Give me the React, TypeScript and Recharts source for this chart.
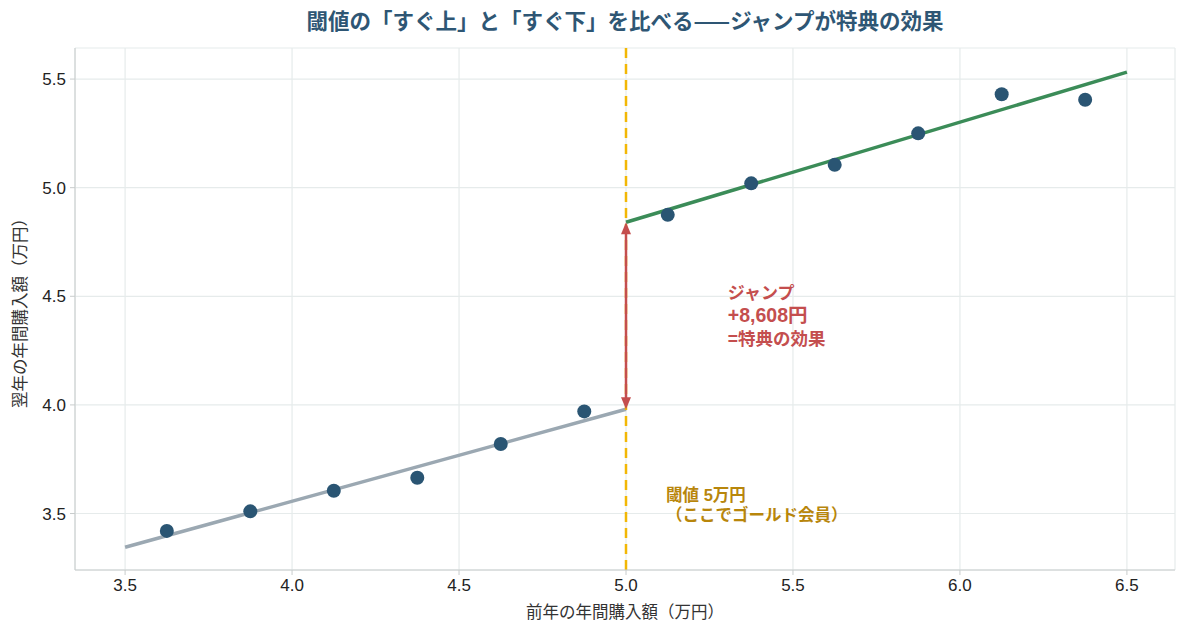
import {
  ComposedChart, Line, Scatter, XAxis, YAxis, CartesianGrid, ReferenceLine, ReferenceDot,
} from 'recharts';

// 前年購入額（万円）のビン中心と、翌年購入額の平均
const binX = [3.625, 3.875, 4.125, 4.375, 4.625, 4.875, 5.125, 5.375, 5.625, 5.875, 6.125, 6.375];
const binY = [3.42, 3.51, 3.605, 3.665, 3.82, 3.97, 4.875, 5.02, 5.105, 5.25, 5.43, 5.405];

// 左右それぞれの回帰直線の端点
const lowFitX = [3.5, 5.0];
const lowFitY = [3.345, 3.98];
const highFitX = [5.0, 6.5];
const highFitY = [4.841, 5.532];

const xTicks = [3.5, 4.0, 4.5, 5.0, 5.5, 6.0, 6.5];
const yTicks = [3.5, 4.0, 4.5, 5.0, 5.5];

const threshold = 5.0;
const jumpLines = ['ジャンプ', '+8,608円', '=特典の効果'];
const thresholdLines = ['閾値 5万円', '（ここでゴールド会員）'];

const font = '"Noto Sans CJK JP", "Noto Sans", sans-serif';
const latinFirst = '"Liberation Sans", "Noto Sans CJK JP", sans-serif';
const navy = '#2a5573';
const grey = '#9ba8b2';
const green = '#3b8c58';
const gold = '#f2b705';
const goldText = '#b8860b';
const red = '#c44e4e';

const points = binX.map((x, i) => ({ x, y: binY[i] }));
const lowFit = lowFitX.map((x, i) => ({ x, y: lowFitY[i] }));
const highFit = highFitX.map((x, i) => ({ x, y: highFitY[i] }));

function XTick({ x, y, payload }: any) {
  return (
    <text x={x} y={y + 14} textAnchor="middle" fontSize={17} fill="#222" fontFamily={latinFirst}>
      {payload.value.toFixed(1)}
    </text>
  );
}

function YTick({ x, y, payload }: any) {
  return (
    <text x={x - 2} y={y + 6} textAnchor="end" fontSize={17} fill="#222" fontFamily={latinFirst}>
      {payload.value.toFixed(1)}
    </text>
  );
}

function JumpArrow(props: any) {
  const { x1, y1, x2, y2 } = props;
  const top = Math.min(y1, y2);
  const bot = Math.max(y1, y2);
  return (
    <g>
      <line x1={x1} y1={top + 6} x2={x2} y2={bot - 6} stroke={red} strokeWidth={2.5} />
      <path d={`M${x1 - 5},${top + 12} L${x1},${top} L${x1 + 5},${top + 12} Z`} fill={red} />
      <path d={`M${x1 - 5},${bot - 12} L${x1},${bot} L${x1 + 5},${bot - 12} Z`} fill={red} />
    </g>
  );
}

function TextBlock({ cx, cy, lines, color, sizes, gap }: any) {
  return (
    <text x={cx} y={cy} fill={color} fontWeight={700} fontFamily={latinFirst}>
      {lines.map((l: string, i: number) => (
        <tspan key={i} x={cx} dy={i === 0 ? 0 : gap} fontSize={sizes[i]}>{l}</tspan>
      ))}
    </text>
  );
}

export default function App() {
  return (
    <div style={{ width: 1188, height: 636, background: '#fff', position: 'relative', fontFamily: font }}>
      <style>{'body{margin:0}'}</style>
      <div style={{ position: 'absolute', left: 75, width: 1100, top: 4, textAlign: 'center', fontSize: 21.5, fontWeight: 700, color: '#2e5674' }}>
        閾値の「すぐ上」と「すぐ下」を比べる——ジャンプが特典の効果
      </div>
      <ComposedChart width={1188} height={636} margin={{ top: 48, right: 13, bottom: 0, left: 20 }}>
        <CartesianGrid stroke="#e6ebeb" strokeWidth={1.2} />
        <XAxis
          type="number" dataKey="x" domain={[3.35, 6.644]} ticks={xTicks} allowDataOverflow
          height={66} tick={<XTick />} tickSize={5}
          stroke="#c8cccc" tickLine={{ stroke: '#c8cccc' }}
          label={{ value: '前年の年間購入額（万円）', position: 'insideBottom', offset: 18, fontSize: 16.5, fill: '#333', fontFamily: font }}
        />
        <YAxis
          type="number" dataKey="y" domain={[3.24, 5.643]} ticks={yTicks} allowDataOverflow
          width={55} tick={<YTick />} tickSize={5}
          stroke="#c8cccc" tickLine={{ stroke: '#c8cccc' }}
          label={{ value: '翌年の年間購入額（万円）', angle: -90, position: 'insideLeft', offset: 0, style: { textAnchor: 'middle' }, fontSize: 16.5, fill: '#333', fontFamily: font }}
        />
        <Line data={lowFit} dataKey="y" stroke={grey} strokeWidth={3.5} dot={false} activeDot={false} isAnimationActive={false} />
        <Line data={highFit} dataKey="y" stroke={green} strokeWidth={3.5} dot={false} activeDot={false} isAnimationActive={false} />
        <ReferenceLine x={threshold} stroke={gold} strokeWidth={2.5} strokeDasharray="10 6" />
        <ReferenceLine
          segment={[{ x: threshold, y: lowFitY[1] }, { x: threshold, y: highFitY[0] }]}
          shape={JumpArrow}
        />
        <Scatter data={points} dataKey="y" fill={navy} isAnimationActive={false}
          shape={(p: any) => <circle cx={p.cx} cy={p.cy} r={7} fill={navy} />} />
        <ReferenceDot x={5.305} y={4.5} r={0} shape={(p: any) => (
          <TextBlock cx={p.cx} cy={p.cy + 3} lines={jumpLines} color={red} sizes={[17, 19.5, 17.5]} gap={23} />
        )} />
        <ReferenceDot x={5.12} y={3.57} r={0} shape={(p: any) => (
          <TextBlock cx={p.cx} cy={p.cy + 3} lines={thresholdLines} color={goldText} sizes={[16.5, 16.5]} gap={20} />
        )} />
      </ComposedChart>
    </div>
  );
}
